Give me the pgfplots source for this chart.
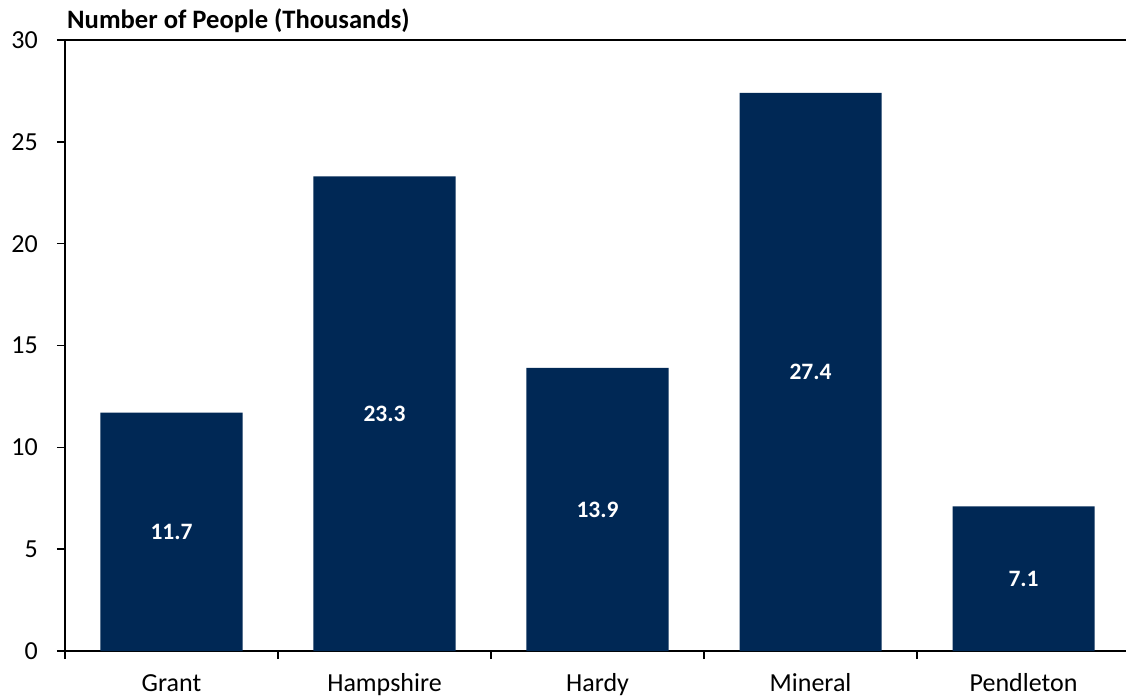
\documentclass[border=0pt]{standalone}
\usepackage{pgfplots}
\pgfplotsset{compat=1.18}
\usepackage{fontspec}
\setmainfont{Carlito}
\definecolor{navy}{HTML}{002855}

\begin{document}
\begin{tikzpicture}[x=1pt,y=1pt]
\path[use as bounding box] (-65,-47) rectangle (1061,651);
\begin{axis}[
    at={(0,0)}, anchor=south west,
    width=1061pt, height=611pt,
    scale only axis,
    xmin=-0.5, xmax=4.481,
    ymin=0, ymax=30,
    axis x line=box, axis y line=left,
    axis line style={line width=1.5pt, -},
    xtick={0,1,2,3,4},
    xticklabels={Grant,Hampshire,Hardy,Mineral,Pendleton},
    minor xtick={-0.5,0.5,1.5,2.5,3.5},
    xtick pos=bottom,
    ytick={0,5,10,15,20,25,30},
    tick align=outside,
    major x tick style={draw=none},
    minor x tick style={line width=1.5pt, black},
    minor tick length=8pt,
    major tick length=8pt,
    y tick style={line width=1.5pt, black},
    ticklabel style={font=\fontsize{26}{30}\selectfont},
    /pgf/number format/assume math mode=true,
    xticklabel style={anchor=base, yshift=-32pt},
    yticklabel style={anchor=east, inner sep=0pt, xshift=-19pt},
    clip=false,
]
\addplot[ybar, bar width=0.667, fill=navy, draw=none,
    visualization depends on=y \as \rawy,
    nodes near coords,
    nodes near coords style={anchor=center, text=white,
        font=\fontsize{23.5}{28}\selectfont\bfseries,
        shift={(axis direction cs:0,-\rawy/2)}},
    point meta=explicit symbolic]
  coordinates {(0,11.7)[11.7] (1,23.3)[23.3] (2,13.9)[13.9] (3,27.4)[27.4] (4,7.1)[7.1]};
\node[anchor=base west, inner sep=0pt, font=\fontsize{26.6}{30}\selectfont\bfseries]
  at (rel axis cs:0,1) [xshift=2pt, yshift=11pt] {Number of People (Thousands)};
\end{axis}
\end{tikzpicture}
\end{document}
